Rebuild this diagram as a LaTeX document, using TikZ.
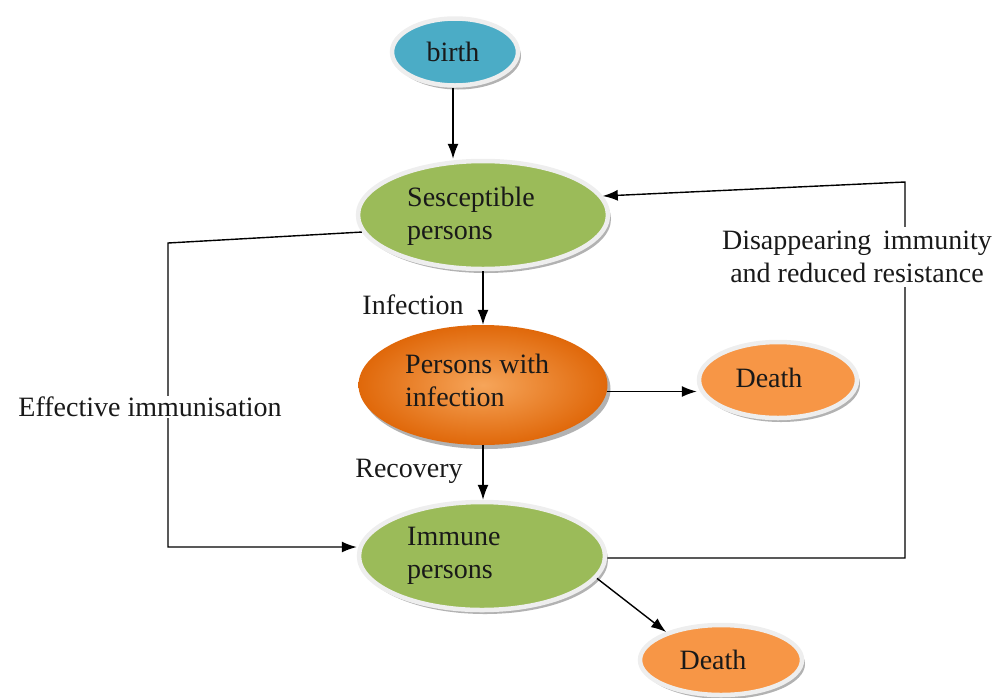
\documentclass[tikz,border=0pt]{standalone}
\usepackage{fontspec}
\setmainfont{Liberation Serif}
\usetikzlibrary{shapes.geometric,shadows,arrows.meta}
\definecolor{greenc}{HTML}{9BBB59}
\definecolor{bluec}{HTML}{4BACC6}
\definecolor{deathc}{HTML}{F79646}
\definecolor{orin}{HTML}{F6A55A}
\definecolor{orout}{HTML}{E0680A}
\definecolor{rimc}{HTML}{EEEEEE}
\begin{document}
\begin{tikzpicture}[x=1pt,y=-1pt,
  every node/.style={font=\fontsize{28}{33}\selectfont, text=black!90},
  oval/.style={ellipse, inner sep=0pt, draw=rimc, line width=4.5pt,
    drop shadow={shadow xshift=3pt, shadow yshift=-4pt, fill=black, opacity=0.3}},
  arr/.style={-{Latex[length=15pt,width=11pt]}, line width=1.4pt},
  lbl/.style={align=left, inner sep=0pt}]
\useasboundingbox (0,0) rectangle (1006,697);

% ovals
\node[oval, fill=bluec, minimum width=126pt, minimum height=67pt] (birth) at (455,52) {};
\node[oval, fill=greenc, minimum width=250pt, minimum height=108pt] (sesc) at (483,215) {};
\node[ellipse, inner sep=0pt, inner color=orin, outer color=orout, minimum width=249pt, minimum height=120pt,
    drop shadow={shadow xshift=3pt, shadow yshift=-4pt, fill=black, opacity=0.3}] (pwi) at (483,385) {};
\node[oval, fill=deathc, minimum width=158pt, minimum height=76pt] (death1) at (778,380) {};
\node[oval, fill=greenc, minimum width=246pt, minimum height=108pt] (imm) at (482,556) {};
\node[oval, fill=deathc, minimum width=162pt, minimum height=70pt] (death2) at (721,660) {};

% helper coordinates
\coordinate (e1) at (168,243);
\coordinate (e2) at (168,547);
\coordinate (d1) at (905,558);
\coordinate (d2) at (905,182);

% connectors
\draw[arr] (birth.south -| 453,0) -- (453,0 |- sesc.north);
\draw[arr] (sesc.south) -- (pwi.north);
\draw[arr] (pwi.south) -- (pwi.south |- imm.north);
\draw[arr] (pwi.-3) -- (pwi.-3 -| death1.west);
\draw[arr] (imm.-11) -- (death2.153);
\draw[arr] (sesc.188) -- (e1) -- (e2) -- (e2 -| imm.west);
\draw[arr] (imm.east |- d1) -- (d1) -- (d2) -- (sesc.9);

% texts
\node[lbl] (birtht) at (453,52) {birth};
\node[lbl, anchor=west] (sesct) at (407,216) {Sesceptible\\persons};
\node[lbl, anchor=west] (pwit) at (405,380) {Persons with\\infection};
\node[lbl, anchor=west] (immt) at (407,556) {Immune\\persons};
\node[lbl] (death1t) at (769,378) {Death};
\node[lbl] (death2t) at (713,660) {Death};
\node[lbl] (inf) at (413,305) {Infection};
\node[lbl] (rec) at (409,471) {Recovery};
\node[lbl, fill=white, inner sep=1pt] (effim) at (150,407) {Effective immunisation};
\node[align=center, fill=white, inner sep=4pt] (disap) at (857,257) {Disappearing\, immunity\\and reduced resistance};
\end{tikzpicture}
\end{document}
